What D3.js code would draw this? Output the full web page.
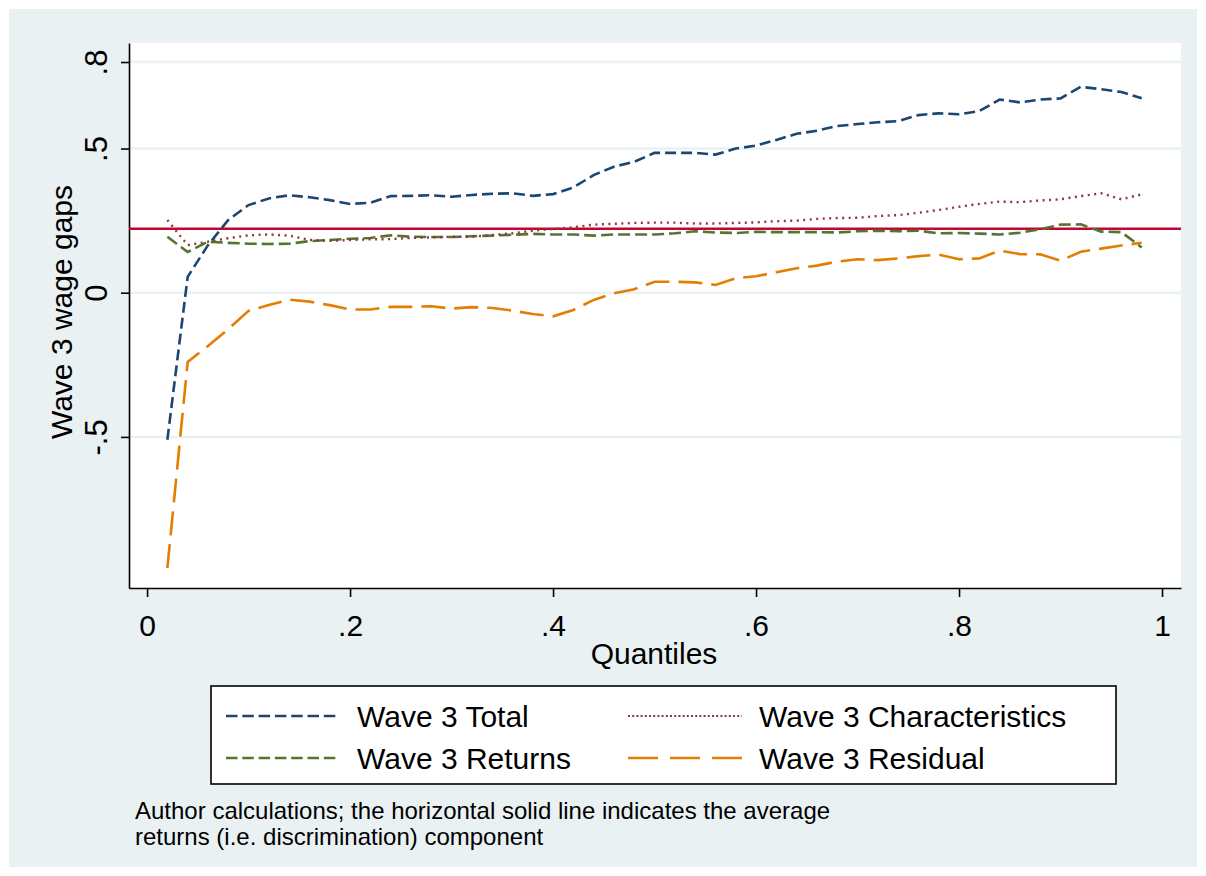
<!DOCTYPE html>
<html>
<head>
<meta charset="utf-8">
<script src="https://d3js.org/d3.v7.min.js"></script>
<style>
  body { margin: 0; background: #ffffff; }
  svg text { font-family: "Liberation Sans", Arial, sans-serif; fill: #000; }
</style>
</head>
<body>
<script>
// quantiles 0.02 .. 0.98
var quantiles = [0.02,0.04,0.06,0.08,0.10,0.12,0.14,0.16,0.18,0.20,
                 0.22,0.24,0.26,0.28,0.30,0.32,0.34,0.36,0.38,0.40,
                 0.42,0.44,0.46,0.48,0.50,0.52,0.54,0.56,0.58,0.60,
                 0.62,0.64,0.66,0.68,0.70,0.72,0.74,0.76,0.78,0.80,
                 0.82,0.84,0.86,0.88,0.90,0.92,0.94,0.96,0.98];

var total = [-0.510,0.055,0.165,0.252,0.304,0.327,0.338,0.331,0.321,0.308,
             0.312,0.335,0.336,0.338,0.333,0.339,0.343,0.345,0.336,0.342,
             0.365,0.408,0.437,0.454,0.485,0.485,0.485,0.479,0.500,0.510,
             0.530,0.551,0.562,0.578,0.585,0.591,0.595,0.616,0.622,0.619,
             0.630,0.670,0.660,0.670,0.674,0.714,0.706,0.696,0.674];

var characteristics = [0.252,0.165,0.177,0.189,0.199,0.202,0.198,0.183,0.180,0.183,
                       0.185,0.186,0.190,0.192,0.194,0.194,0.200,0.206,0.215,0.221,
                       0.227,0.236,0.239,0.242,0.243,0.243,0.240,0.240,0.242,0.244,
                       0.248,0.250,0.256,0.259,0.260,0.266,0.269,0.277,0.287,0.298,
                       0.308,0.316,0.314,0.320,0.324,0.335,0.345,0.324,0.341];

var returns = [0.194,0.141,0.177,0.173,0.170,0.169,0.170,0.179,0.183,0.187,
               0.190,0.199,0.194,0.193,0.193,0.196,0.198,0.201,0.204,0.202,
               0.202,0.198,0.202,0.202,0.202,0.206,0.213,0.209,0.207,0.211,
               0.210,0.210,0.210,0.209,0.213,0.215,0.213,0.215,0.206,0.207,
               0.205,0.202,0.208,0.220,0.236,0.237,0.212,0.210,0.157];

var residual = [-0.955,-0.240,-0.185,-0.126,-0.063,-0.043,-0.024,-0.031,-0.043,-0.058,
                -0.058,-0.049,-0.049,-0.047,-0.055,-0.050,-0.053,-0.062,-0.074,-0.082,
                -0.060,-0.025,-0.002,0.012,0.038,0.038,0.036,0.027,0.050,0.057,
                0.071,0.085,0.094,0.108,0.116,0.113,0.119,0.127,0.132,0.116,
                0.119,0.146,0.134,0.133,0.111,0.142,0.153,0.164,0.173];

var avgReturns = 0.222;  // horizontal solid line

var xTicks = [0, 0.2, 0.4, 0.6, 0.8, 1];
var xTickLabels = ["0", ".2", ".4", ".6", ".8", "1"];
var yTicks = [-0.5, 0, 0.5, 0.8];
var yTickLabels = ["-.5", "0", ".5", ".8"];

var seriesNames = ["Wave 3 Total", "Wave 3 Characteristics", "Wave 3 Returns", "Wave 3 Residual"];

var W = 1206, H = 876;
var svg = d3.select("body").append("svg")
    .attr("width", W)
    .attr("height", H);

// graph region (light bluish gray)
svg.append("rect")
    .attr("x", 9).attr("y", 9)
    .attr("width", W - 18).attr("height", H - 18)
    .style("fill", "#eaf1f3");

var x = d3.scaleLinear().domain([-0.0178, 1.0187]).range([129, 1181]);
var y = d3.scaleLinear().domain([-1.024, 0.866]).range([588, 43]);

// plot region
svg.append("rect")
    .attr("x", x.range()[0]).attr("y", y.range()[1])
    .attr("width", x.range()[1] - x.range()[0])
    .attr("height", y.range()[0] - y.range()[1])
    .style("fill", "white");

// gridlines
svg.selectAll("line.grid")
    .data(yTicks)
    .enter()
    .append("line")
    .attr("class", "grid")
    .attr("x1", x.range()[0]).attr("x2", x.range()[1])
    .attr("y1", function(d) { return y(d); })
    .attr("y2", function(d) { return y(d); })
    .style("stroke", "#eaf1f3")
    .style("stroke-width", 2.5);

// y axis
var yAxis = svg.append("g")
    .attr("transform", "translate(" + x.range()[0] + ",0)")
    .call(d3.axisLeft(y).tickValues(yTicks).tickSize(8).tickSizeOuter(0)
        .tickFormat(function(d, i) { return yTickLabels[i]; }));
yAxis.select(".domain").style("stroke", "#000").style("stroke-width", 1.6);
yAxis.selectAll(".tick line").style("stroke", "#000").style("stroke-width", 1.6);
yAxis.selectAll(".tick text")
    .attr("transform", "rotate(-90)")
    .attr("x", 0).attr("y", -22).attr("dy", 0)
    .style("text-anchor", "middle")
    .style("font-size", "31px")
    .style("font-family", "Liberation Sans, Arial, sans-serif");

// x axis
var xAxis = svg.append("g")
    .attr("transform", "translate(0," + y.range()[0] + ")")
    .call(d3.axisBottom(x).tickValues(xTicks).tickSize(9).tickSizeOuter(0)
        .tickFormat(function(d, i) { return xTickLabels[i]; }));
xAxis.select(".domain").style("stroke", "#000").style("stroke-width", 1.6);
xAxis.selectAll(".tick line").style("stroke", "#000").style("stroke-width", 1.6);
xAxis.selectAll(".tick text")
    .attr("y", 48).attr("dy", 0)
    .style("font-size", "30px")
    .style("font-family", "Liberation Sans, Arial, sans-serif");

// axis titles
svg.append("text")
    .attr("x", 654).attr("y", 664)
    .style("text-anchor", "middle")
    .style("font-size", "30px")
    .text("Quantiles");

svg.append("text")
    .attr("transform", "translate(72,312) rotate(-90)")
    .style("text-anchor", "middle")
    .style("font-size", "30px")
    .text("Wave 3 wage gaps");

// average returns line
svg.append("line")
    .attr("x1", x.range()[0]).attr("x2", x.range()[1])
    .attr("y1", y(avgReturns)).attr("y2", y(avgReturns))
    .style("stroke", "#c10534")
    .style("stroke-width", 2.6);

var styles = [
    {data: total, color: "#1a476f", dash: "11,5", width: 2.6},
    {data: characteristics, color: "#90353b", dash: "2,4.5", width: 2.4},
    {data: returns, color: "#55752f", dash: "12,5", width: 2.6},
    {data: residual, color: "#e37e00", dash: "24,9", width: 2.6}
];

var line = d3.line()
    .x(function(d, i) { return x(quantiles[i]); })
    .y(function(d) { return y(d); });

// draw order: residual, returns, characteristics, total
[3, 2, 1, 0].forEach(function(k) {
    svg.append("path")
        .attr("d", line(styles[k].data))
        .style("fill", "none")
        .style("stroke", styles[k].color)
        .style("stroke-width", styles[k].width)
        .style("stroke-dasharray", styles[k].dash);
});

// legend
var legend = svg.append("g");
legend.append("rect")
    .attr("x", 211).attr("y", 686)
    .attr("width", 905).attr("height", 98)
    .style("fill", "white")
    .style("stroke", "#000")
    .style("stroke-width", 1.6);

var legendPos = [
    {x: 226, y: 716}, {x: 628, y: 716},
    {x: 226, y: 758}, {x: 628, y: 758}
];
var legendDash = ["11.5,4.8", "2,2.2", "11.5,4.8", "30,12"];

seriesNames.forEach(function(name, k) {
    var p = legendPos[k];
    legend.append("line")
        .attr("x1", p.x).attr("x2", p.x + 114)
        .attr("y1", p.y).attr("y2", p.y)
        .style("stroke", styles[k].color)
        .style("stroke-width", k === 1 ? 2 : 2.6)
        .style("stroke-dasharray", legendDash[k]);
    legend.append("text")
        .attr("x", p.x + 131).attr("y", p.y + 11)
        .style("font-size", "30px")
        .text(name);
});

// note
var note = svg.append("text")
    .attr("x", 135).attr("y", 819)
    .style("font-size", "24px");
note.append("tspan").attr("x", 135).attr("dy", 0)
    .text("Author calculations; the horizontal solid line indicates the average");
note.append("tspan").attr("x", 135).attr("dy", 26)
    .text("returns (i.e. discrimination) component");
</script>
</body>
</html>
